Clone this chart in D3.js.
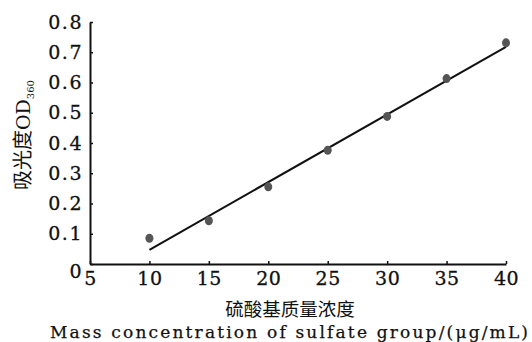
<!DOCTYPE html>
<html>
<head>
<meta charset="utf-8">
<script src="https://cdn.jsdelivr.net/npm/d3@7"></script>
<style>
  body { margin: 0; background: #fff; }
  text { fill: #111; }
</style>
</head>
<body>
<script>
// measured points
var concX = [10, 15, 20, 25, 30, 35, 40];
var absY = [0.085, 0.143, 0.255, 0.376, 0.488, 0.613, 0.731];
// fitted line ends
var fitX = [10, 40];
var fitY = [0.047, 0.718];
var xTicks = [5, 10, 15, 20, 25, 30, 35, 40];
var yTicks = [0, 0.1, 0.2, 0.3, 0.4, 0.5, 0.6, 0.7, 0.8];

var W = 532, H = 342;
var serif = "'DejaVu Serif', 'Liberation Serif', serif";
var cjk = "'Noto Sans CJK SC', serif";

var svg = d3.select('body').append('svg')
    .attr('width', W).attr('height', H);

var x = d3.scaleLinear().domain([5, 40]).range([90, 506]);
var y = d3.scaleLinear().domain([0, 0.8]).range([264, 22]);

var xAxis = svg.append('g')
    .attr('transform', 'translate(0,' + y(0) + ')')
    .call(d3.axisBottom(x).tickValues(xTicks).tickSizeInner(-3).tickSizeOuter(0).tickPadding(8));
var yAxis = svg.append('g')
    .attr('transform', 'translate(' + x(5) + ',0)')
    .call(d3.axisLeft(y).tickValues(yTicks).tickSizeInner(-3).tickSizeOuter(0).tickPadding(7)
        .tickFormat(function(d) { return d === 0 ? '0' : d3.format('.1f')(d); }));

[xAxis, yAxis].forEach(function(g) {
    g.select('.domain').attr('stroke', '#111').attr('stroke-width', 2);
    g.selectAll('.tick line').attr('stroke', '#111').attr('stroke-width', 1.5);
    g.selectAll('.tick text').attr('font-family', serif).attr('font-size', 19)
        .attr('fill', '#111').attr('stroke', '#111').attr('stroke-width', 0.3);
});
xAxis.selectAll('.tick text').style('letter-spacing', '0.5px');
yAxis.selectAll('.tick text').style('letter-spacing', '1.5px');
yAxis.select('.tick text').attr('dy', '0.7em');

var line = d3.line().x(function(d) { return x(d[0]); }).y(function(d) { return y(d[1]); });
svg.append('path')
    .datum(d3.zip(fitX, fitY))
    .attr('d', line)
    .attr('fill', 'none')
    .attr('stroke', '#111')
    .attr('stroke-width', 2);

svg.append('g').selectAll('ellipse')
    .data(d3.zip(concX, absY))
    .join('ellipse')
    .attr('cx', function(d) { return x(d[0]); })
    .attr('cy', function(d) { return y(d[1]); })
    .attr('rx', 4)
    .attr('ry', 4.5)
    .attr('fill', '#555');

svg.append('text')
    .attr('x', 290).attr('y', 316)
    .attr('text-anchor', 'middle')
    .attr('font-family', cjk).attr('font-size', 18.5)
    .text('硫酸基质量浓度');

svg.append('text')
    .attr('x', 289).attr('y', 338)
    .attr('text-anchor', 'middle')
    .attr('font-family', serif).attr('font-size', 17)
    .attr('stroke', '#111').attr('stroke-width', 0.25)
    .attr('textLength', 478).attr('lengthAdjust', 'spacing')
    .text('Mass concentration of sulfate group/(μg/mL)');

var yl = svg.append('text')
    .attr('transform', 'translate(30,135) rotate(-90)')
    .attr('text-anchor', 'middle')
    .attr('font-family', cjk).attr('font-size', 20);
yl.append('tspan').text('吸光度');
yl.append('tspan').attr('font-family', serif).attr('font-size', 19).text('OD');
yl.append('tspan').attr('font-size', 10).attr('dy', 4).attr('font-family', serif).text('360');
</script>
</body>
</html>
